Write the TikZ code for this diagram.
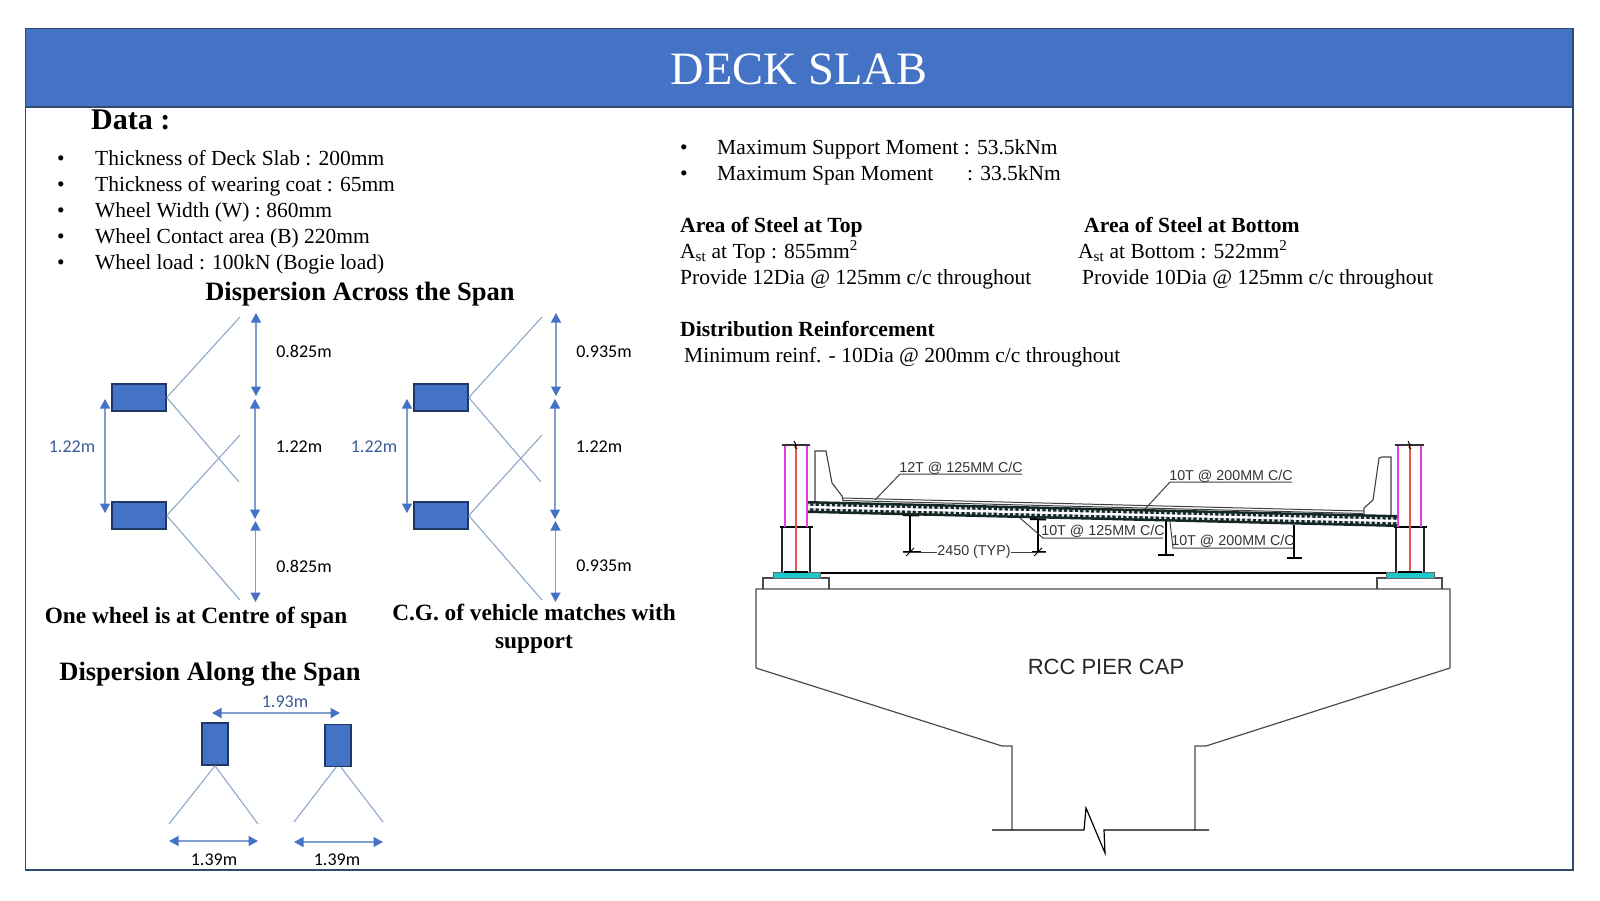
\documentclass[tikz,border=0pt]{standalone}
\usepackage{fontspec}
\setmainfont{Liberation Serif}
\newfontfamily\dimfont{Carlito}
\newfontfamily\cadfont{Liberation Sans}
\usetikzlibrary{arrows.meta}
\definecolor{headblue}{HTML}{4472C4}
\definecolor{framedark}{HTML}{2F4B6E}
\definecolor{wheeledge}{HTML}{1F3864}
\definecolor{dimblue}{HTML}{4472C4}
\definecolor{dimshaft}{HTML}{7F9DCF}
\definecolor{dimtext}{HTML}{3B5C94}
\definecolor{spreadline}{HTML}{8FA6C8}
\definecolor{railpink}{HTML}{E040E0}
\definecolor{railred}{HTML}{E8554E}
\definecolor{plateteal}{HTML}{1FC8C8}
\definecolor{slabdark}{HTML}{142626}
\tikzset{
	body/.style={anchor=mid west,inner sep=0pt,font=\fontsize{21.5}{26}\selectfont},
	bodybold/.style={body,font=\fontsize{21.6}{26}\selectfont\bfseries},
	heading/.style={inner sep=0pt,align=center,font=\fontsize{26.5}{28}\selectfont\bfseries},
	caption/.style={inner sep=0pt,align=center,font=\fontsize{23.3}{28}\selectfont\bfseries},
	wheel/.style={draw=wheeledge,line width=1.5pt,fill=headblue,inner sep=0pt,minimum width=54pt,minimum height=27pt},
	wheelup/.style={draw=wheeledge,line width=1.5pt,fill=headblue,inner sep=0pt,minimum width=26pt,minimum height=42pt},
	spread/.style={spreadline,line width=1.1pt},
	dimline/.style={dimshaft,line width=1.3pt,{Triangle[width=10pt,length=9.5pt,color=dimblue]}-{Triangle[width=10pt,length=9.5pt,color=dimblue]}},
	dimlabel/.style={inner sep=0pt,font=\dimfont\fontsize{18}{20}\selectfont},
	cadlabel/.style={inner sep=0pt,text=black!80,font=\cadfont\fontsize{14.3}{16}\selectfont},
	cadline/.style={black!75,line width=1pt},
	girder/.style={black,line width=1.4pt},
}
\begin{document}
\begin{tikzpicture}[x=1pt,y=-1pt]
	\useasboundingbox (0,0) rectangle (1600,900);
	\pgfmathsetmacro{\barL}{507};
	\pgfmathsetmacro{\barR}{521};
%
	\draw[framedark,line width=1.3pt] (25.5,28.5) rectangle (1573,870);
	\draw[framedark,line width=1.3pt,fill=headblue] (25.5,28.5) rectangle (1573,107);
	\node[inner sep=0pt,text=white,font=\fontsize{46.4}{50}\selectfont] (title) at (799,69) {DECK SLAB};
% data list
	\node[inner sep=0pt,anchor=mid west,font=\fontsize{30}{32}\selectfont\bfseries] (data) at (91,127) {Data :};
	\foreach \n/\y/\txt in {a/163/Thickness of Deck Slab : 200mm,b/189/Thickness of wearing coat : 65mm,c/215/Wheel Width (W) : 860mm,d/241/Wheel Contact area (B) 220mm,e/267/Wheel load : 100kN (Bogie load)}{
		\node[body] (bull\n) at (57,\y) {•};
		\node[body] (item\n) at (95,\y) {\txt};
	}
% results
	\node[body] (bullm) at (680,152) {•};
	\node[body] (moma) at (717,152) {Maximum Support Moment : 53.5kNm};
	\node[body] (bulln) at (680,178) {•};
	\node[body] (momb) at (717,178) {Maximum Span Moment};
	\node[body] (momc) at (967,178) {: 33.5kNm};
	\node[bodybold] (tophead) at (680,230.5) {Area of Steel at Top};
	\node[body] (topast) at (680,256) {A\textsubscript{st} at Top : 855mm\textsuperscript{2}};
	\node[body] (topbar) at (680,282.5) {Provide 12Dia @ 125mm c/c throughout};
	\node[bodybold] (bothead) at (1084,230.5) {Area of Steel at Bottom};
	\node[body] (botast) at (1078,256) {A\textsubscript{st} at Bottom : 522mm\textsuperscript{2}};
	\node[body] (botbar) at (1082,282.5) {Provide 10Dia @ 125mm c/c throughout};
	\node[bodybold] (disthead) at (680,334.5) {Distribution Reinforcement};
	\node[body] (distbar) at (684,360) {Minimum reinf. - 10Dia @ 200mm c/c throughout};
% dispersion across the span
	\node[heading] (across) at (360,294) {Dispersion Across the Span};
	\foreach \g/\xs/\xd/\lab in {p/0/0/0.825m,q/302/-2/0.935m}{
		\begin{scope}[shift={(\xs,0)}]
			\node[wheel] (top\g) at (139,397.5) {};
			\node[wheel] (low\g) at (139,515.5) {};
			\coordinate (ea\g) at (240,317);
			\coordinate (eb\g) at (239,482);
			\coordinate (ec\g) at (240,435);
			\coordinate (ed\g) at (240,600);
			\draw[spread] (top\g.east) -- (ea\g);
			\draw[spread] (top\g.east) -- (eb\g);
			\draw[spread] (low\g.east) -- (ec\g);
			\draw[spread] (low\g.east) -- (ed\g);
			\coordinate (ua\g) at (256+\xd,313);
			\coordinate (ub\g) at (256+\xd,396);
			\coordinate (va\g) at (255+\xd,399);
			\coordinate (vb\g) at (255+\xd,519);
			\coordinate (wa\g) at (255.5+\xd,521);
			\coordinate (wb\g) at (255.5+\xd,602);
			\coordinate (sa\g) at (105,399);
			\coordinate (sb\g) at (105,513);
			\draw[dimline] (ua\g) -- (ub\g);
			\draw[dimline] (va\g) -- (vb\g);
			\draw[dimline] (wa\g) -- (wb\g);
			\draw[dimline] (sa\g) -- (sb\g);
			\node[dimlabel] (dima\g) at (304+\xd,351.5) {\lab};
			\node[dimlabel] (dimb\g) at (299+\xd,447) {1.22m};
			\node[dimlabel] (dimc\g) at (304+\xd,566) {\lab};
			\node[dimlabel,text=dimtext] (dims\g) at (72,447) {1.22m};
		\end{scope}
	}
	\node[caption] (capa) at (196,618) {One wheel is at Centre of span};
	\node[caption] (capb) at (534,628.5) {C.G. of vehicle matches with\\support};
% dispersion along the span
	\node[heading] (along) at (210,674) {Dispersion Along the Span};
	\node[wheelup] (wa) at (215,744) {};
	\node[wheelup] (wb) at (338,745.5) {};
	\coordinate (tipa) at (169,824);
	\coordinate (tipb) at (258,824);
	\coordinate (tipc) at (294,822);
	\coordinate (tipd) at (383,822);
	\draw[spread] (wa.south) -- (tipa);
	\draw[spread] (wa.south) -- (tipb);
	\draw[spread] ([xshift=-2pt]wb.south) -- (tipc);
	\draw[spread] ([xshift=3pt]wb.south) -- (tipd);
	\coordinate (gapa) at (212,713);
	\coordinate (gapb) at (340,713);
	\coordinate (wida) at (169,841);
	\coordinate (widb) at (258,841);
	\coordinate (widc) at (294,842);
	\coordinate (widd) at (383,842);
	\draw[dimline] (gapa) -- (gapb);
	\draw[dimline] (wida) -- (widb);
	\draw[dimline] (widc) -- (widd);
	\node[dimlabel,text=dimtext] (gaplab) at (285,702) {1.93m};
	\node[dimlabel] (widlaba) at (214,859.5) {1.39m};
	\node[dimlabel] (widlabb) at (337,859.5) {1.39m};
% pier cap
	\draw[black!70,line width=1.2pt] (756,668) -- (756,589) -- (1450,589) -- (1450,668) -- (1206,746) -- (1195,746) -- (1195,830);
	\draw[black!70,line width=1.2pt] (756,668) -- (1002,746) -- (1012,746) -- (1012,830);
	\draw[black,line width=1.2pt] (992,830) -- (1084,830) -- (1086,808) -- (1105,853) -- (1104,830) -- (1209,830);
	\node[inner sep=0pt,text=black!85,font=\cadfont\fontsize{22}{24}\selectfont] (piercap) at (1106,667) {RCC PIER CAP};
% bearings, columns, rails
	\draw[black,line width=1.6pt] (820,573) -- (1386,573);
	\foreach \xa/\xb/\pa/\pb/\ca/\cb/\ra/\rb/\ma/\mb/\rr in {763/829/773/820/782/810/785/807/780/813/796,1377/1442/1386/1434/1396/1424/1398/1421/1394/1427/1410}{
		\draw[black!70,line width=1.2pt] (\xa,589) -- (\xa,578) -- (\xb,578) -- (\xb,589);
		\draw[black!60,fill=plateteal,line width=.8pt] (\pa,572.5) rectangle (\pb,578.5);
		\draw[black!85,line width=1.8pt] (\ca,572) -- (\ca,527);
		\draw[black!85,line width=1.8pt] (\cb,572) -- (\cb,527);
		\draw[black,line width=1.8pt] (\ma,527) -- (\mb,527);
		\draw[railpink,line width=1.6pt] (\ra,445) -- (\ra,527);
		\draw[railpink,line width=1.6pt] (\rb,445) -- (\rb,527);
		\draw[railred,line width=1.2pt] (\rr,445) -- (\rr,572);
		\draw[black!80,line width=1.1pt] (\ra-3,445) -- (\rb+3,445);
		\draw[black,line width=1pt] (\rr-2,441) -- (\rr,445) -- (\rr-1,447) -- (\rr+1,449);
		\draw[black,line width=1.4pt] (\ca+2,572) -- (\cb-2,572);
	}
% kerbs and wearing coat
	\draw[black!75,line width=1.1pt] (815,501) -- (815,451) -- (826,451) -- (832,483) -- (842,496) -- (843,501);
	\draw[black!75,line width=1.1pt] (1364,514) -- (1364,508) -- (1373,500) -- (1379,458) -- (1382,457) -- (1391,457) -- (1391,515);
	\draw[black!75,line width=1pt] (843,498) -- (1363,511);
	\draw[black!75,line width=1pt] (843,500.5) -- (1363,513.5);
% girders
	\foreach \x/\ya/\yb/\fa/\fb in {910/515/552/903/921,1038/519/552/1032/1046,1166/520/555/1158/1174,1294/525/558/1287/1302}{
		\draw[girder] (\x,\ya) -- (\x,\yb);
		\draw[girder] (\fa,\yb) -- (\fb,\yb);
	}
	\draw[girder,line width=2pt] (903,515) -- (919,515.5);
	\draw[girder,line width=2pt] (1030,519) -- (1046,519.5);
% deck slab
	\draw[slabdark,line width=12pt] (808,\barL) -- (1397,\barR);
	\draw[white!85!slabdark,line width=7pt,dash pattern=on 2.2pt off 3.2pt] (808,\barL) -- (1397,\barR);
	\draw[white,line width=2.4pt] (808,\barL) -- (1397,\barR);
% bar labels
	\node[cadlabel] (lbla) at (961,468) {12T @ 125MM C/C};
	\node[cadlabel] (lblb) at (1231,476) {10T @ 200MM C/C};
	\node[cadlabel] (lblc) at (1103,531.5) {10T @ 125MM C/C};
	\node[cadlabel] (lbld) at (1233,541) {10T @ 200MM C/C};
	\draw[cadline] (875,500) -- (900,474) -- (1022,474);
	\draw[cadline] (1145,509) -- (1170,482) -- (1292,482);
	\draw[cadline] (1020,518) -- (1043,538) -- (1163,538);
	\draw[cadline] (1170,522) -- (1173,548) -- (1293,548);
	\node[cadlabel] (typ) at (974,552) {2450 (TYP)};
	\coordinate (typa) at (903,552);
	\coordinate (typb) at (1046,552);
	\draw[cadline] (typa) -- (typ);
	\draw[cadline] (typ) -- (typb);
	\draw[black,line width=1pt] (906,556) -- (914,548);
	\draw[black,line width=1pt] (1034,556) -- (1042,548);
\end{tikzpicture}
\end{document}
